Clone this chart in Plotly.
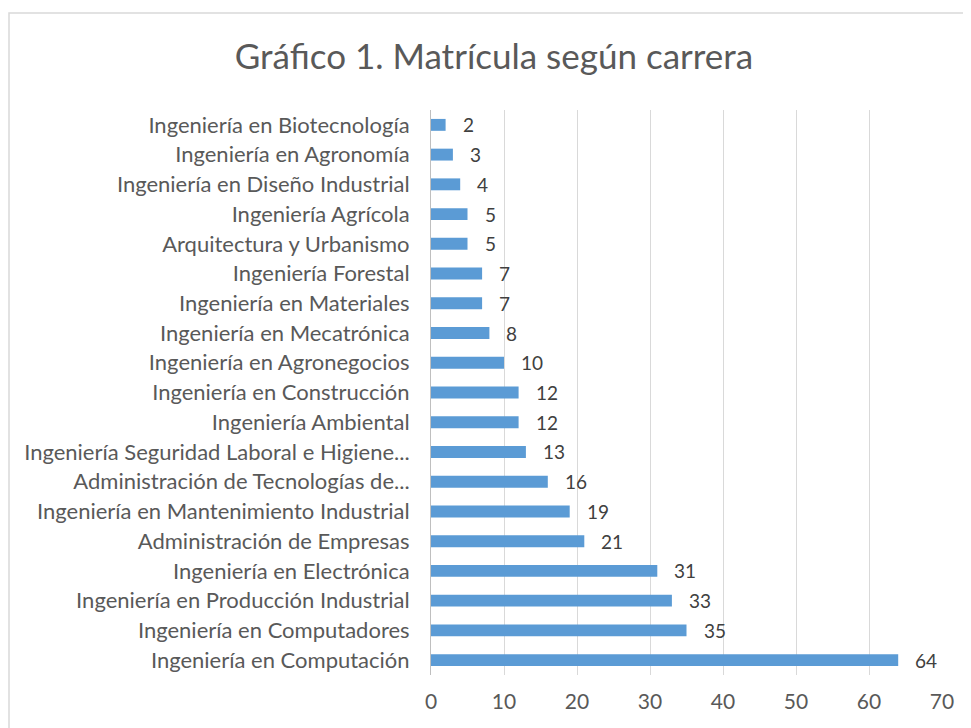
import plotly.graph_objects as go

categories = [
    "Ingeniería en Computación",
    "Ingeniería en Computadores",
    "Ingeniería en Producción Industrial",
    "Ingeniería en Electrónica",
    "Administración de Empresas",
    "Ingeniería en Mantenimiento Industrial",
    "Administración de Tecnologías de...",
    "Ingeniería Seguridad Laboral e Higiene...",
    "Ingeniería Ambiental",
    "Ingeniería en Construcción",
    "Ingeniería en Agronegocios",
    "Ingeniería en Mecatrónica",
    "Ingeniería en Materiales",
    "Ingeniería Forestal",
    "Arquitectura y Urbanismo",
    "Ingeniería Agrícola",
    "Ingeniería en Diseño Industrial",
    "Ingeniería en Agronomía",
    "Ingeniería en Biotecnología",
]
values = [64, 35, 33, 31, 21, 19, 16, 13, 12, 12, 10, 8, 7, 7, 5, 5, 4, 3, 2]
x_ticks = [0, 10, 20, 30, 40, 50, 60, 70]

# page has an 8px body margin, so the figure is 8px smaller than the window
W, H = 963, 720
L, R, T, B = 423, 29, 102, 53
pw = W - L - R
ph = H - T - B

FONT = "Lato, sans-serif"

fig = go.Figure()
fig.add_trace(go.Bar(
    x=values, y=categories, orientation="h",
    marker=dict(color="#5B9BD5", line=dict(width=0)),
    width=0.4,
    hoverinfo="x+y",
))

annotations = []
for c, v in zip(categories, values):
    annotations.append(dict(
        x=v, y=c, xref="x", yref="y", text=str(v), showarrow=False,
        xanchor="left", xshift=15,
        font=dict(family=FONT, size=19, color="#404040"),
    ))

fig.update_layout(
    width=W, height=H,
    margin=dict(l=L, r=R, t=T, b=B),
    paper_bgcolor="white", plot_bgcolor="white",
    title=dict(
        text="Gráfico 1. Matrícula según carrera",
        x=486 / W, xanchor="center", xref="container",
        y=1 - 49 / H, yanchor="middle", yref="container",
        font=dict(family=FONT, size=35, color="#595959"),
    ),
    showlegend=False,
    annotations=annotations,
    xaxis=dict(
        range=[0, 70], tickvals=x_ticks, ticktext=[str(t) for t in x_ticks],
        showgrid=True, gridcolor="#D9D9D9", gridwidth=1,
        zeroline=False, showline=False,
        ticks="outside", ticklen=8, tickcolor="rgba(0,0,0,0)",
        tickfont=dict(family=FONT, size=21, color="#595959"),
        fixedrange=True,
    ),
    yaxis=dict(
        type="category", categoryorder="array", categoryarray=categories,
        showgrid=False, zeroline=False,
        showline=True, linecolor="#BFBFBF", linewidth=1,
        ticks="outside", ticklen=16, tickcolor="rgba(0,0,0,0)",
        tickfont=dict(family=FONT, size=22, color="#595959"),
        fixedrange=True,
    ),
    shapes=[dict(
        type="rect", xref="paper", yref="paper",
        x0=(1 - L) / pw, x1=(W + 5 - L) / pw,
        y0=-(H + 5 - (T + ph)) / ph, y1=(T + ph - 5) / ph,
        line=dict(color="#D9D9D9", width=1.5), fillcolor="rgba(0,0,0,0)",
        layer="below",
    )],
)

fig.write_html("out.html")
